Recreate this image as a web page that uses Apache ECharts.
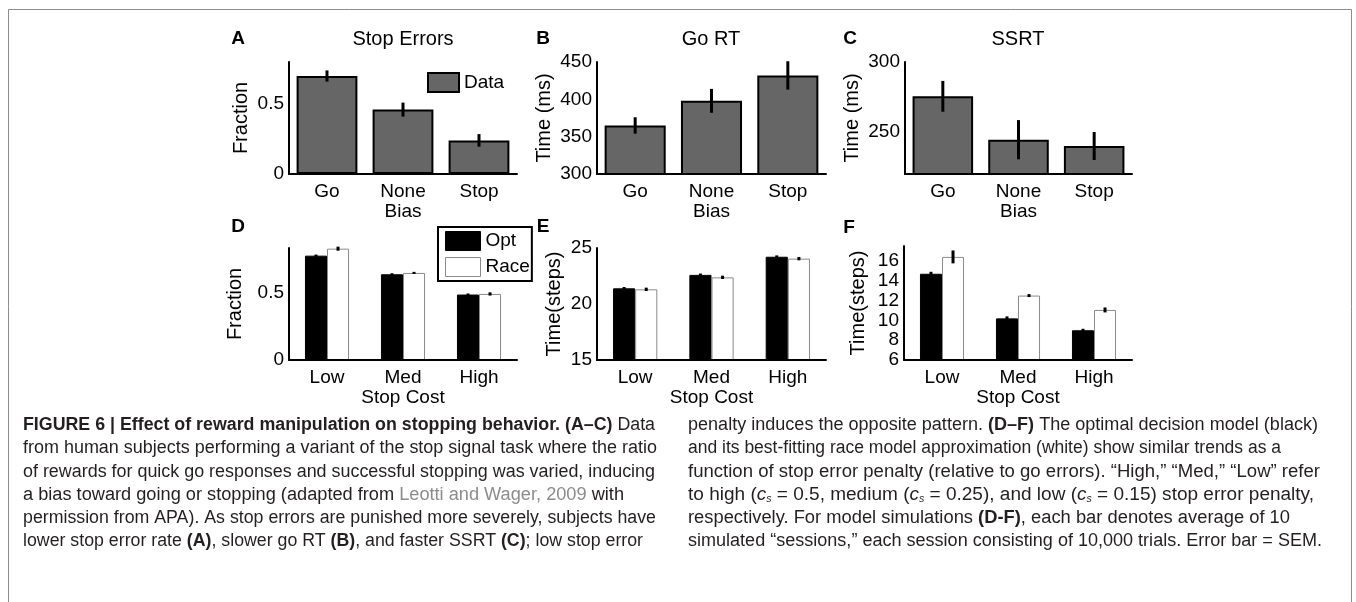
<!DOCTYPE html>
<html><head><meta charset="utf-8">
<script src="https://cdn.jsdelivr.net/npm/echarts@6/dist/echarts.min.js"></script>
<style>html,body{margin:0;padding:0;background:#fff}#c{width:1356px;height:602px}</style>
</head><body><div id="c"></div>
<script>
// ---------- data ----------
const topCategories = ['Go', 'None', 'Stop'];
const botCategories = ['Low', 'Med', 'High'];

const stopErrFrac = [0.70, 0.46, 0.24];
const stopErrSem  = [0.04, 0.05, 0.045];
const goRtMs      = [365, 398, 432];
const goRtSem     = [11, 16, 19];
const ssrtMs      = [275.5, 244.5, 240];
const ssrtSem     = [11, 14, 10];

const fracOpt        = [0.778, 0.639, 0.488];
const fracOptSem     = [0.008, 0.008, 0.008];
const fracRace       = [0.83, 0.649, 0.4925];
const fracRaceSem    = [0.015, 0.008, 0.012];
const goTimeOpt      = [21.4, 22.6, 24.22];
const goTimeOptSem   = [0.12, 0.12, 0.12];
const goTimeRace     = [21.31, 22.38, 24.05];
const goTimeRaceSem  = [0.15, 0.15, 0.15];
const ssrtStepsOpt     = [14.7, 10.2, 9.0];
const ssrtStepsOptSem  = [0.2, 0.2, 0.15];
const ssrtStepsRace    = [16.4, 12.5, 11.05];
const ssrtStepsRaceSem = [0.65, 0.15, 0.25];

const yTicksA = [0, 0.5];
const yTicksC = [250, 300];
const yTicksD = [0, 0.5];
const yTicksF = [6, 8, 10, 12, 14, 16];

// ---------- styles ----------
const FONT = "'Liberation Sans', Arial, Helvetica, sans-serif";
const CAPFONT = "'Liberation Sans Narrow', 'Liberation Sans', sans-serif";
const FS = 19;

const grids = [
  {left: 289, top: 62, width: 228, height: 112},
  {left: 597, top: 62, width: 229, height: 112},
  {left: 905, top: 62, width: 227, height: 112},
  {left: 289, top: 248, width: 228, height: 112},
  {left: 597, top: 248, width: 229, height: 112},
  {left: 904, top: 246, width: 228, height: 114}
];

function xAxisFor(gi, cats, name) {
  return {
    type: 'category', gridIndex: gi, data: cats, z: 3,
    axisLine: {onZero: false, lineStyle: {color: '#000', width: 2}},
    axisTick: {show: false},
    axisLabel: {fontSize: FS, color: '#000', margin: 8, fontFamily: FONT},
    name: name, nameLocation: 'middle', nameGap: 27,
    nameTextStyle: {fontSize: FS, color: '#000', fontFamily: FONT}
  };
}
function yAxisFor(gi, cfg) {
  const ax = {
    type: 'value', gridIndex: gi, min: cfg.min, max: cfg.max, z: 3,
    axisLine: {show: true, onZero: false, lineStyle: {color: '#000', width: 2}},
    axisTick: {show: false},
    splitLine: {show: false},
    axisLabel: {fontSize: FS, color: '#000', margin: 5, fontFamily: FONT, showMaxLabel: true, showMinLabel: true},
    name: cfg.name, nameLocation: 'middle', nameGap: cfg.gap, nameRotate: 90,
    nameTextStyle: {fontSize: 20, color: '#000', fontFamily: FONT}
  };
  if (cfg.interval) ax.interval = cfg.interval;
  if (cfg.ticks) { ax.axisLabel.customValues = cfg.ticks; ax.axisTick.customValues = cfg.ticks; }
  return ax;
}

function errRender(params, api) {
  const idx = api.value(0), v = api.value(1), e = api.value(2), off = api.value(3), w = api.value(4);
  const band = api.size([1, 0])[0];
  const p1 = api.coord([idx, v - e]);
  const p2 = api.coord([idx, v + e]);
  const x = p1[0] + off * band;
  return {type: 'line', shape: {x1: x, y1: p1[1], x2: x, y2: p2[1]},
          style: {stroke: '#000', lineWidth: w}};
}
function errSeries(gi, vals, sems, off, w) {
  return {type: 'custom', xAxisIndex: gi, yAxisIndex: gi, z: 6, silent: true,
          renderItem: errRender, encode: {x: 0, y: 1},
          data: vals.map((v, i) => [i, v, sems[i], off, w])};
}
function grayBar(gi, name, vals) {
  return {type: 'bar', name: name, xAxisIndex: gi, yAxisIndex: gi, data: vals,
          barCategoryGap: '20%', silent: true,
          itemStyle: {color: '#666666', borderColor: '#000', borderWidth: 2}};
}
function pairBars(gi, opt, race) {
  return [
    {type: 'bar', name: 'Opt', xAxisIndex: gi, yAxisIndex: gi, data: opt, barGap: '0%', barCategoryGap: '42%', silent: true,
     itemStyle: {color: '#000', borderColor: '#000', borderWidth: 1}},
    {type: 'bar', name: 'Race', xAxisIndex: gi, yAxisIndex: gi, data: race, barGap: '0%', barCategoryGap: '42%', silent: true,
     itemStyle: {color: '#fff', borderColor: '#8a8a8a', borderWidth: 1}}
  ];
}

// ---------- caption ----------
const captionLeft = [
  [['FIGURE 6 | Effect of reward manipulation on stopping behavior. (A–C)', 'b'], [' Data']],
  [['from human subjects performing a variant of the stop signal task where the ratio']],
  [['of rewards for quick go responses and successful stopping was varied, inducing']],
  [['a bias toward going or stopping (adapted from '], ['Leotti and Wager, 2009', 'g'], [' with']],
  [['permission from APA). As stop errors are punished more severely, subjects have']],
  [['lower stop error rate '], ['(A)', 'b'], [', slower go RT '], ['(B)', 'b'], [', and faster SSRT '], ['(C)', 'b'], ['; low stop error']]
];
const captionRight = [
  [['penalty induces the opposite pattern. '], ['(D–F)', 'b'], [' The optimal decision model (black)']],
  [['and its best-fitting race model approximation (white) show similar trends as a']],
  [['function of stop error penalty (relative to go errors). “High,” “Med,” “Low” refer']],
  [['to high ('], ['c', 'i'], ['s', 'sub'], [' = 0.5, medium ('], ['c', 'i'], ['s', 'sub'], [' = 0.25), and low ('], ['c', 'i'], ['s', 'sub'], [' = 0.15) stop error penalty,']],
  [['respectively. For model simulations '], ['(D-F)', 'b'], [', each bar denotes average of 10']],
  [['simulated “sessions,” each session consisting of 10,000 trials. Error bar = SEM.']]
];
const capEndLeft  = [655, 657, 655, 624, 656, 643];
const capEndRight = [1318, 1281, 1320, 1314, 1290, 1322];
const capStartLeft = 23, capStartRight = 688;
const capY = [425, 448.3, 471.6, 494.9, 518.2, 541.5];
const CFS = 18;

const mctx = document.createElement('canvas').getContext('2d');
const segFont = {
  '': `${CFS}px ${CAPFONT}`,
  b: `bold ${CFS}px ${CAPFONT}`,
  g: `${CFS}px ${CAPFONT}`,
  i: `italic ${CFS}px ${CAPFONT}`,
  sub: `italic 10px ${CAPFONT}`
};
function measure(segs) {
  let w = 0;
  segs.forEach(s => { mctx.font = segFont[s[1] || '']; w += mctx.measureText(s[0]).width; });
  return w;
}
function capLine(segs, x, y, xEnd) {
  const txt = segs.map(s => s[1] ? `{${s[1]}|${s[0]}}` : s[0]).join('');
  const w = measure(segs);
  return {
    type: 'text', x: x, y: y, scaleX: (xEnd - x) / w, silent: true,
    style: {
      text: txt, fill: '#231f20', font: `${CFS}px ${CAPFONT}`, verticalAlign: 'middle', align: 'left',
      rich: {
        b: {fontWeight: 'bold', fontSize: CFS, fontFamily: CAPFONT, fill: '#231f20'},
        g: {fontSize: CFS, fontFamily: CAPFONT, fill: '#8c8c8c'},
        i: {fontStyle: 'italic', fontSize: CFS, fontFamily: CAPFONT, fill: '#231f20'},
        sub: {fontStyle: 'italic', fontSize: 10, fontFamily: CAPFONT, fill: '#231f20', verticalAlign: 'bottom', padding: [8, 0, 0, 0]}
      }
    }
  };
}

const graphics = [
  {type: 'rect', silent: true, shape: {x: 8.5, y: 9.5, width: 1343, height: 640},
   style: {fill: 'none', stroke: '#8c8c8c', lineWidth: 1}}
];
function label(text, x, y, bold, size) {
  graphics.push({type: 'text', x: x, y: y, silent: true,
    style: {text: text, fill: '#000', font: `${bold ? 'bold ' : ''}${size}px ${FONT}`, align: 'center', verticalAlign: 'middle'}});
}
label('A', 238, 39, true, 19); label('B', 543, 39, true, 19); label('C', 850, 39, true, 19);
label('D', 238, 227, true, 19); label('E', 543, 227, true, 19); label('F', 849, 228, true, 19);
label('Stop Errors', 403, 39, false, 20); label('Go RT', 711, 39, false, 20); label('SSRT', 1018, 39, false, 20);
captionLeft.forEach((l, i) => graphics.push(capLine(l, capStartLeft, capY[i], capEndLeft[i])));
captionRight.forEach((l, i) => graphics.push(capLine(l, capStartRight, capY[i], capEndRight[i])));

const option = {
  animation: false,
  backgroundColor: '#fff',
  textStyle: {fontFamily: FONT},
  grid: grids,
  xAxis: [
    xAxisFor(0, topCategories, 'Bias'), xAxisFor(1, topCategories, 'Bias'), xAxisFor(2, topCategories, 'Bias'),
    xAxisFor(3, botCategories, 'Stop Cost'), xAxisFor(4, botCategories, 'Stop Cost'), xAxisFor(5, botCategories, 'Stop Cost')
  ],
  yAxis: [
    yAxisFor(0, {min: 0, max: 0.8, ticks: yTicksA, name: 'Fraction', gap: 38}),
    yAxisFor(1, {min: 300, max: 450, interval: 50, name: 'Time (ms)', gap: 43}),
    yAxisFor(2, {min: 220, max: 300, ticks: yTicksC, name: 'Time (ms)', gap: 43}),
    yAxisFor(3, {min: 0, max: 0.835, ticks: yTicksD, name: 'Fraction', gap: 44}),
    yAxisFor(4, {min: 15, max: 25, interval: 5, name: 'Time(steps)', gap: 33}),
    yAxisFor(5, {min: 6, max: 17.5, ticks: yTicksF, name: 'Time(steps)', gap: 36})
  ],
  legend: [
    {data: ['Data'], left: 427, top: 72, itemWidth: 31, itemHeight: 19, padding: 0, selectedMode: false,
     icon: 'rect',
     itemStyle: {color: '#666666', borderColor: '#000', borderWidth: 2},
     textStyle: {fontSize: FS, color: '#000', fontFamily: FONT}},
    {data: [{name: 'Opt', icon: 'rect', itemStyle: {color: '#000', borderColor: '#000', borderWidth: 1}},
            {name: 'Race', icon: 'rect', itemStyle: {color: '#fff', borderColor: '#8a8a8a', borderWidth: 1}}],
     left: 438, top: 227, orient: 'vertical', itemWidth: 35, itemHeight: 19, itemGap: 6,
     padding: [4, 2, 4, 7], borderColor: '#000', borderWidth: 2, selectedMode: false, backgroundColor: '#fff',
     textStyle: {fontSize: FS, color: '#000', fontFamily: FONT}}
  ],
  series: [
    grayBar(0, 'Data', stopErrFrac), errSeries(0, stopErrFrac, stopErrSem, 0, 3),
    grayBar(1, 'Go RT', goRtMs), errSeries(1, goRtMs, goRtSem, 0, 3),
    grayBar(2, 'SSRT', ssrtMs), errSeries(2, ssrtMs, ssrtSem, 0, 3),
    ...pairBars(3, fracOpt, fracRace),
    errSeries(3, fracOpt, fracOptSem, -0.145, 3), errSeries(3, fracRace, fracRaceSem, 0.145, 3),
    ...pairBars(4, goTimeOpt, goTimeRace),
    errSeries(4, goTimeOpt, goTimeOptSem, -0.145, 3), errSeries(4, goTimeRace, goTimeRaceSem, 0.145, 3),
    ...pairBars(5, ssrtStepsOpt, ssrtStepsRace),
    errSeries(5, ssrtStepsOpt, ssrtStepsOptSem, -0.145, 3), errSeries(5, ssrtStepsRace, ssrtStepsRaceSem, 0.145, 3)
  ],
  graphic: graphics
};
const chart = echarts.init(document.getElementById('c'), null, {renderer: 'canvas'});
chart.setOption(option);
</script>
</body></html>
